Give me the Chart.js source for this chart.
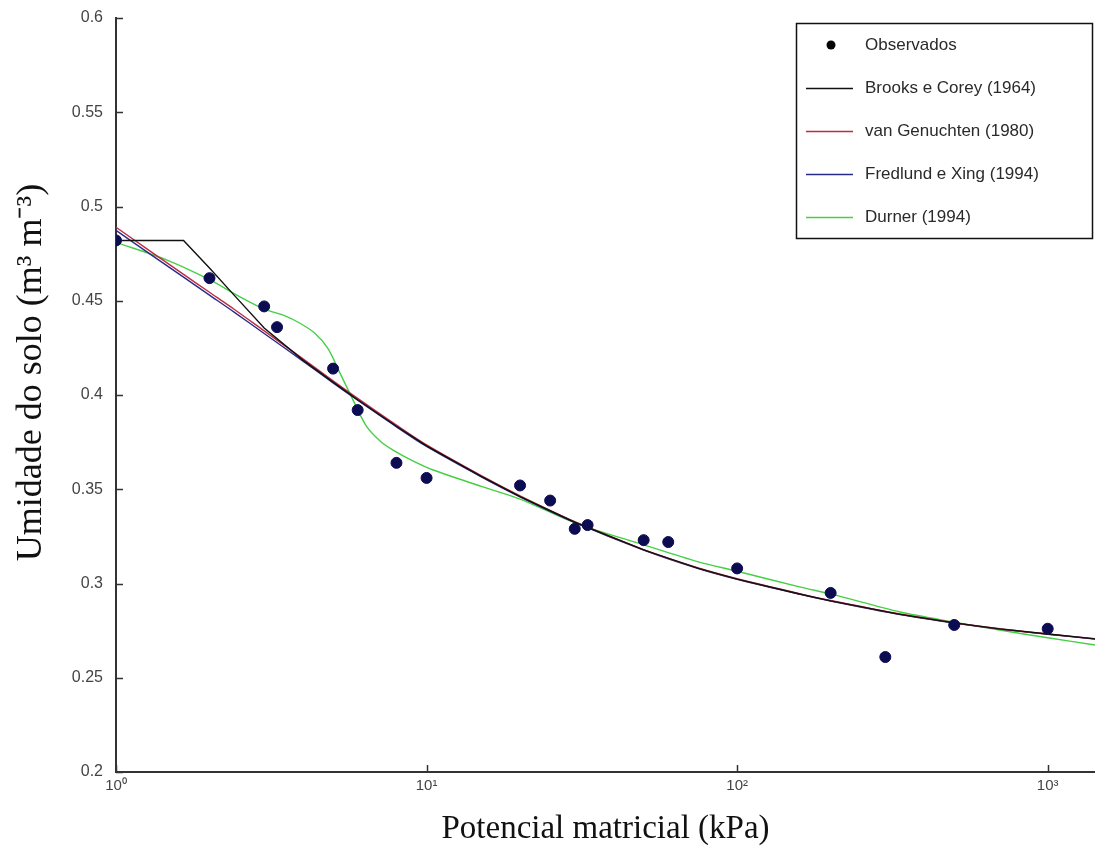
<!DOCTYPE html>
<html lang="pt">
<head>
    <meta charset="UTF-8">
    <title>Curva de retenção</title>
    <script src="https://cdn.jsdelivr.net/npm/chart.js"></script>
    <style>
        body { margin: 0; background: #fff; }
    </style>
</head>
<body>
    <canvas id="curva" width="1095" height="849"></canvas>

<script>
// pontos observados (kPa, m3/m3)
const obsX = [1, 2, 3, 3.3, 5, 6, 8, 10, 20, 25, 30, 33, 50, 60, 100, 200, 300, 500, 1000];
const obsY = [0.482, 0.462, 0.447, 0.436, 0.414, 0.392, 0.364, 0.356, 0.352, 0.344, 0.329, 0.331, 0.323, 0.322, 0.308, 0.295, 0.261, 0.278, 0.276];

// curvas ajustadas
const curvaX = [1, 1.65, 2, 2.4, 3, 4, 5, 6, 8, 10, 15, 20, 30, 50, 75, 100, 160, 200, 335, 500, 700, 1000, 1420];
const brooksCorey   = [0.482, 0.482, 0.4674, 0.453, 0.4355, 0.4185, 0.4068, 0.3975, 0.3834, 0.3730, 0.3568, 0.3461, 0.3325, 0.3178, 0.3080, 0.3023, 0.2943, 0.2908, 0.2836, 0.2791, 0.2759, 0.2732, 0.2706];
const vanGenuchten  = [0.4890, 0.4640, 0.4545, 0.4455, 0.4340, 0.4192, 0.4075, 0.3982, 0.3840, 0.3735, 0.3572, 0.3465, 0.3328, 0.3180, 0.3082, 0.3025, 0.2945, 0.2910, 0.2838, 0.2792, 0.2760, 0.2732, 0.2707];
const fredlundXing  = [0.4873, 0.4625, 0.4530, 0.4440, 0.4326, 0.4180, 0.4064, 0.3972, 0.3831, 0.3727, 0.3566, 0.3460, 0.3324, 0.3177, 0.3079, 0.3022, 0.2942, 0.2907, 0.2835, 0.2790, 0.2758, 0.2731, 0.2705];

// Durner tem o "S" entre 3 e 8 kPa, precisa de mais pontos
const durnerX = [1, 1.46, 2, 2.5, 3, 3.5, 3.9, 4.35, 4.8, 5.25, 5.8, 6.4, 7.1, 7.8, 9, 10.5, 15, 20, 30, 50, 75, 100, 160, 200, 335, 500, 700, 1000, 1420];
const durner  = [0.481, 0.4716, 0.4612, 0.4522, 0.4456, 0.4420, 0.4382, 0.4330, 0.4250, 0.4120, 0.3973, 0.3835, 0.3755, 0.3708, 0.3652, 0.3602, 0.3515, 0.3448, 0.3322, 0.3205, 0.3115, 0.3065, 0.2981, 0.2945, 0.2849, 0.2795, 0.2753, 0.2712, 0.2674];

const yTicks = [0.2, 0.25, 0.3, 0.35, 0.4, 0.45, 0.5, 0.55, 0.6];
const xTicks = [1, 10, 100, 1000];
const xTickLabels = ['10\u2070', '10\u00b9', '10\u00b2', '10\u00b3'];

function pares(xs, ys) {
    let lista = [];
    for (let i = 0; i < xs.length; i++) {
        lista.push({ x: xs[i], y: ys[i] });
    }
    return lista;
}

function linha(label, xs, ys, cor, tensao) {
    return {
        type: 'line',
        label: label,
        data: pares(xs, ys),
        borderColor: cor,
        backgroundColor: cor,
        borderWidth: 1.4,
        pointRadius: 0,
        fill: false,
        tension: tensao
    };
}

let dados = {
    datasets: [
        {
            type: 'scatter',
            label: 'Observados',
            data: pares(obsX, obsY),
            backgroundColor: '#0c0c52',
            borderColor: '#0c0c52',
            pointRadius: 5.5,
            order: 0
        },
        linha('Brooks e Corey (1964)', curvaX, brooksCorey, '#111111', 0),
        linha('van Genuchten (1980)', curvaX, vanGenuchten, '#bd2c42', 0.3),
        linha('Fredlund e Xing (1994)', curvaX, fredlundXing, '#2a2a88', 0.3),
        linha('Durner (1994)', durnerX, durner, '#45cf45', 0.3)
    ]
};

// tracinhos para dentro nos eixos
const tracos = {
    id: 'tracos',
    afterDraw(chart) {
        const ctx = chart.ctx;
        const a = chart.chartArea;
        ctx.save();
        ctx.strokeStyle = '#333';
        ctx.lineWidth = 1.5;
        chart.scales.y.ticks.forEach(t => {
            const py = Math.round(chart.scales.y.getPixelForValue(t.value)) + 0.5;
            ctx.beginPath();
            ctx.moveTo(a.left, py);
            ctx.lineTo(a.left + 7, py);
            ctx.stroke();
        });
        chart.scales.x.ticks.forEach(t => {
            const px = Math.round(chart.scales.x.getPixelForValue(t.value)) + 0.5;
            ctx.beginPath();
            ctx.moveTo(px, a.bottom);
            ctx.lineTo(px, a.bottom - 7);
            ctx.stroke();
        });
        ctx.restore();
    }
};

// legenda em caixa no canto
const caixaLegenda = {
    id: 'caixaLegenda',
    afterDraw(chart) {
        const ctx = chart.ctx;
        const x0 = 796, y0 = 23, w = 296, h = 215;
        ctx.save();
        ctx.fillStyle = '#fff';
        ctx.fillRect(x0, y0, w, h);
        ctx.strokeStyle = '#111';
        ctx.lineWidth = 1.5;
        ctx.strokeRect(x0 + 0.5, y0 + 0.5, w, h);
        ctx.font = '17px "Liberation Sans", Arial, sans-serif';
        ctx.textBaseline = 'middle';
        chart.data.datasets.forEach((ds, i) => {
            const yy = y0 + 22 + i * 43;
            if (ds.type === 'scatter') {
                ctx.fillStyle = '#050505';
                ctx.beginPath();
                ctx.arc(831, yy, 4.5, 0, Math.PI * 2);
                ctx.fill();
            } else {
                ctx.strokeStyle = ds.borderColor;
                ctx.lineWidth = 1.5;
                ctx.beginPath();
                ctx.moveTo(806, yy + 0.5);
                ctx.lineTo(853, yy + 0.5);
                ctx.stroke();
            }
            ctx.fillStyle = '#2a2a2a';
            ctx.fillText(ds.label, 865, yy);
        });
        ctx.restore();
    }
};

const config = {
    data: dados,
    options: {
        responsive: false,
        animation: false,
        devicePixelRatio: 1,
        // sem autoPadding senao o chart.js empurra a area por causa dos pontos
        layout: { autoPadding: false, padding: { top: 18, right: 0, left: 0, bottom: 0 } },
        plugins: {
            legend: { display: false },
            tooltip: { enabled: false }
        },
        scales: {
            x: {
                type: 'logarithmic',
                min: 1,
                max: 1420,
                afterBuildTicks: s => { s.ticks = xTicks.map(v => ({ value: v })); },
                afterFit: s => { s.height = 77; s.paddingLeft = 0; s.paddingRight = 0; },
                grid: { display: false, drawTicks: false },
                border: { display: true, color: '#333', width: 2 },
                ticks: {
                    autoSkip: false,
                    maxRotation: 0,
                    padding: 5,
                    color: '#444',
                    font: { family: '"Liberation Sans", Arial, sans-serif', size: 15 },
                    callback: function (v) {
                        return xTickLabels[xTicks.indexOf(v)];
                    }
                },
                title: {
                    display: true,
                    text: 'Potencial matricial (kPa)',
                    color: '#111',
                    font: { family: '"Liberation Serif", "Times New Roman", serif', size: 33 },
                    padding: { top: 0, bottom: 0 }
                }
            },
            y: {
                min: 0.2,
                max: 0.6,
                afterBuildTicks: s => { s.ticks = yTicks.map(v => ({ value: v })); },
                afterFit: s => { s.width = 116; s.paddingTop = 0; s.paddingBottom = 0; },
                grid: { display: false, drawTicks: false },
                border: { display: true, color: '#333', width: 2 },
                ticks: {
                    padding: 13,
                    color: '#444',
                    font: { family: '"Liberation Sans", Arial, sans-serif', size: 16 },
                    callback: v => String(+v.toFixed(2))
                },
                title: {
                    display: true,
                    text: '     Umidade do solo (m\u00b3 m\u207b\u00b3)',
                    color: '#111',
                    font: { family: '"Liberation Serif", "Times New Roman", serif', size: 36 },
                    padding: { top: 10, bottom: 0 }
                }
            }
        }
    },
    plugins: [tracos, caixaLegenda]
};

var grafico = new Chart(document.getElementById('curva'), config);
</script>
</body>
</html>
